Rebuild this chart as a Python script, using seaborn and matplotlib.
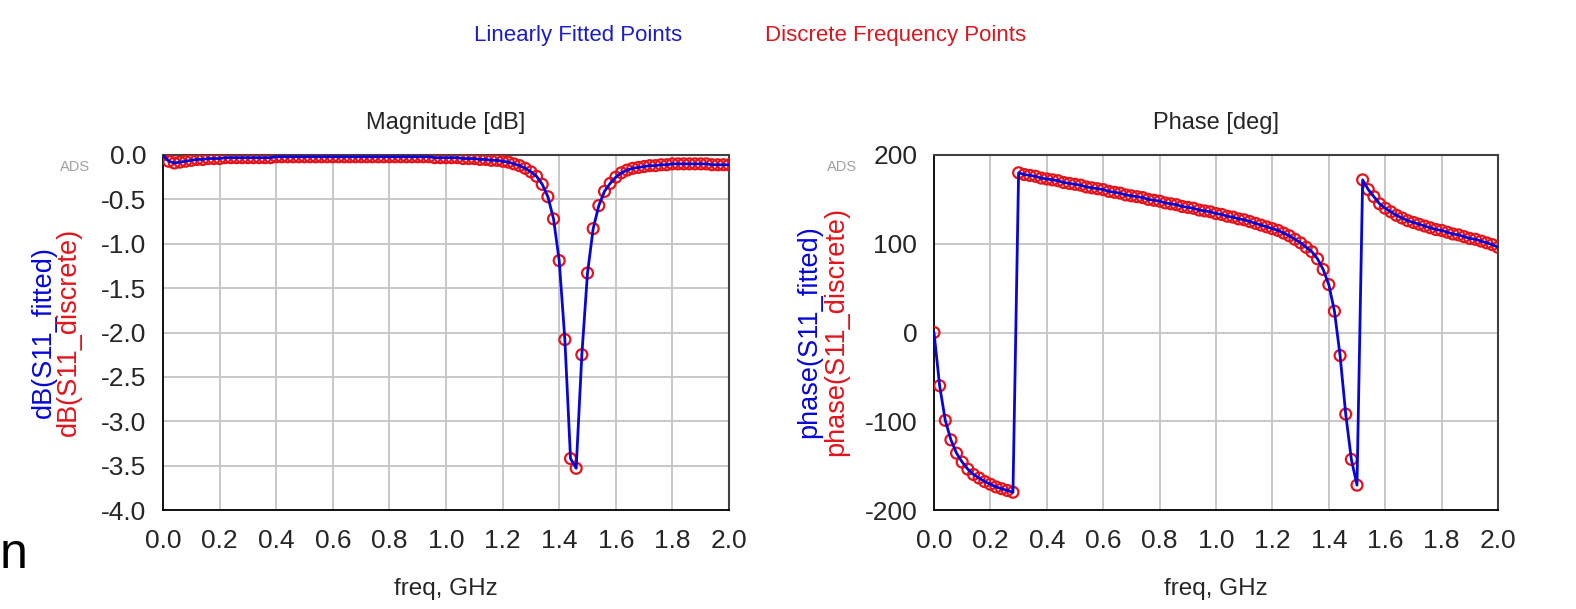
import numpy as np
import pandas as pd
import matplotlib
matplotlib.use("Agg")
import matplotlib.pyplot as plt
from matplotlib.ticker import MultipleLocator, FormatStrFormatter
import seaborn as sns

sns.set_style("white")
plt.rcParams["font.family"] = ["Liberation Sans", "DejaVu Sans"]
plt.rcParams["axes.unicode_minus"] = False

# frequency sweep, GHz (101 points)
freq_ghz = [
    0.00, 0.02, 0.04, 0.06, 0.08, 0.10, 0.12, 0.14, 0.16, 0.18,
    0.20, 0.22, 0.24, 0.26, 0.28, 0.30, 0.32, 0.34, 0.36, 0.38,
    0.40, 0.42, 0.44, 0.46, 0.48, 0.50, 0.52, 0.54, 0.56, 0.58,
    0.60, 0.62, 0.64, 0.66, 0.68, 0.70, 0.72, 0.74, 0.76, 0.78,
    0.80, 0.82, 0.84, 0.86, 0.88, 0.90, 0.92, 0.94, 0.96, 0.98,
    1.00, 1.02, 1.04, 1.06, 1.08, 1.10, 1.12, 1.14, 1.16, 1.18,
    1.20, 1.22, 1.24, 1.26, 1.28, 1.30, 1.32, 1.34, 1.36, 1.38,
    1.40, 1.42, 1.44, 1.46, 1.48, 1.50, 1.52, 1.54, 1.56, 1.58,
    1.60, 1.62, 1.64, 1.66, 1.68, 1.70, 1.72, 1.74, 1.76, 1.78,
    1.80, 1.82, 1.84, 1.86, 1.88, 1.90, 1.92, 1.94, 1.96, 1.98,
    2.00,
]

# dB(S11_discrete)
s11_db = [
    0.00, -0.07, -0.09, -0.08, -0.07, -0.06, -0.05, -0.05, -0.04, -0.04,
    -0.04, -0.03, -0.03, -0.03, -0.03, -0.03, -0.03, -0.03, -0.03, -0.03,
    -0.02, -0.02, -0.02, -0.02, -0.02, -0.02, -0.02, -0.02, -0.02, -0.02,
    -0.02, -0.02, -0.02, -0.02, -0.02, -0.02, -0.02, -0.02, -0.02, -0.02,
    -0.02, -0.02, -0.02, -0.02, -0.02, -0.02, -0.02, -0.02, -0.03, -0.03,
    -0.03, -0.03, -0.03, -0.04, -0.04, -0.04, -0.05, -0.05, -0.06, -0.06,
    -0.07, -0.08, -0.10, -0.12, -0.15, -0.19, -0.24, -0.33, -0.47, -0.72,
    -1.19, -2.08, -3.42, -3.53, -2.25, -1.33, -0.83, -0.57, -0.41, -0.32,
    -0.25, -0.20, -0.17, -0.15, -0.14, -0.13, -0.12, -0.12, -0.11, -0.11,
    -0.10, -0.10, -0.10, -0.10, -0.10, -0.10, -0.10, -0.11, -0.11, -0.11,
    -0.11,
]

# phase(S11_discrete) in degrees
s11_phase = [
    0, -60, -99, -121, -136, -146, -154, -160, -164, -168,
    -171, -174, -176, -178, -180, 180, 178, 177, 176, 174,
    173, 172, 171, 169, 168, 167, 166, 164, 163, 162,
    161, 159, 158, 157, 155, 154, 153, 152, 150, 149,
    148, 146, 145, 144, 142, 141, 140, 138, 137, 136,
    134, 133, 131, 130, 128, 127, 125, 123, 121, 119,
    117, 115, 112, 109, 105, 101, 96, 91, 83, 71,
    54, 24, -26, -92, -143, -172, 172, 161, 153, 145,
    140, 136, 132, 129, 126, 124, 122, 120, 118, 116,
    115, 113, 111, 110, 108, 106, 105, 103, 101, 99,
    96,
]

# the fitted trace sits on top of the discrete points
s11_db_fitted = list(s11_db)
s11_phase_fitted = list(s11_phase)

df = pd.DataFrame({"freq": freq_ghz,
                   "db": s11_db, "db_fit": s11_db_fitted,
                   "phase": s11_phase, "phase_fit": s11_phase_fitted})

BLUE = "#0606d8"
RED = "#e3141c"

fig = plt.figure(figsize=(15.76, 6.09), dpi=100)
ax1 = fig.add_axes([163 / 1576, 1 - 510 / 609, 566 / 1576, 355 / 609])
ax2 = fig.add_axes([934 / 1576, 1 - 510 / 609, 564 / 1576, 355 / 609])


def draw(ax, ycol, fitcol):
    sns.scatterplot(data=df, x="freq", y=ycol, ax=ax, marker="o", s=62,
                    facecolor="none", edgecolor=RED, linewidth=1.6, zorder=3)
    sns.lineplot(data=df, x="freq", y=fitcol, ax=ax, color=BLUE, lw=2.0,
                 estimator=None, sort=False, zorder=4)
    ax.set_xlim(0, 2.0)
    ax.xaxis.set_major_locator(MultipleLocator(0.2))
    ax.xaxis.set_minor_locator(MultipleLocator(0.1))
    ax.xaxis.set_major_formatter(FormatStrFormatter("%.1f"))
    ax.grid(which="major", color="#c4c4c4", lw=1.3)
    ax.set_axisbelow(True)
    ax.tick_params(axis="x", which="both", direction="out", length=9,
                   width=1.2, color="black", labelsize=19, pad=5)
    ax.tick_params(axis="y", which="major", direction="out", length=11,
                   width=1.2, color="black", labelsize=19, pad=1)
    ax.tick_params(axis="y", which="minor", direction="out", length=6,
                   width=1.2, color="black")
    for side in ["left", "bottom"]:
        ax.spines[side].set_color("black")
        ax.spines[side].set_linewidth(1.3)
    for side in ["top", "right"]:
        ax.spines[side].set_color("#404040")
        ax.spines[side].set_linewidth(1.5)
    ax.set_xlabel("freq, GHz", fontsize=17.5, labelpad=18)
    ax.set_ylabel("")


draw(ax1, "db", "db_fit")
ax1.set_ylim(-4.0, 0.0)
ax1.yaxis.set_major_locator(MultipleLocator(0.5))
ax1.yaxis.set_major_formatter(FormatStrFormatter("%.1f"))
ax1.set_title("Magnitude [dB]", fontsize=17, pad=19)

draw(ax2, "phase", "phase_fit")
ax2.set_ylim(-200, 200)
ax2.yaxis.set_major_locator(MultipleLocator(100))
ax2.yaxis.set_minor_locator(MultipleLocator(20))
ax2.set_title("Phase [deg]", fontsize=17, pad=19)

# two-colour y labels
yc = 1 - 332 / 609
fig.text(44 / 1576, yc, "dB(S11_fitted)", color=BLUE, rotation=90,
         ha="center", va="center", fontsize=19.5)
fig.text(69 / 1576, yc, "dB(S11_discrete)", color=RED, rotation=90,
         ha="center", va="center", fontsize=19.5)
fig.text(809 / 1576, yc, "phase(S11_fitted)", color=BLUE, rotation=90,
         ha="center", va="center", fontsize=19.5)
fig.text(836 / 1576, yc, "phase(S11_discrete)", color=RED, rotation=90,
         ha="center", va="center", fontsize=19.5)

# ADS watermarks
fig.text(75 / 1576, 1 - 167 / 609, "ADS", color="#a0a0a0", fontsize=10.5,
         ha="center", va="center")
fig.text(842 / 1576, 1 - 167 / 609, "ADS", color="#a0a0a0", fontsize=10.5,
         ha="center", va="center")

# legend header
fig.text(578 / 1576, 1 - 35 / 609, "Linearly Fitted Points", color="#1c1cc8",
         fontsize=16, ha="center", va="center")
fig.text(896 / 1576, 1 - 35 / 609, "Discrete Frequency Points", color="#d81820",
         fontsize=16, ha="center", va="center")

# slide fragment at the left edge
fig.text(0 / 1576, 1 - 555 / 609, "n", color="black", fontsize=36,
         ha="left", va="center")

fig.savefig("out.png", dpi=100)
